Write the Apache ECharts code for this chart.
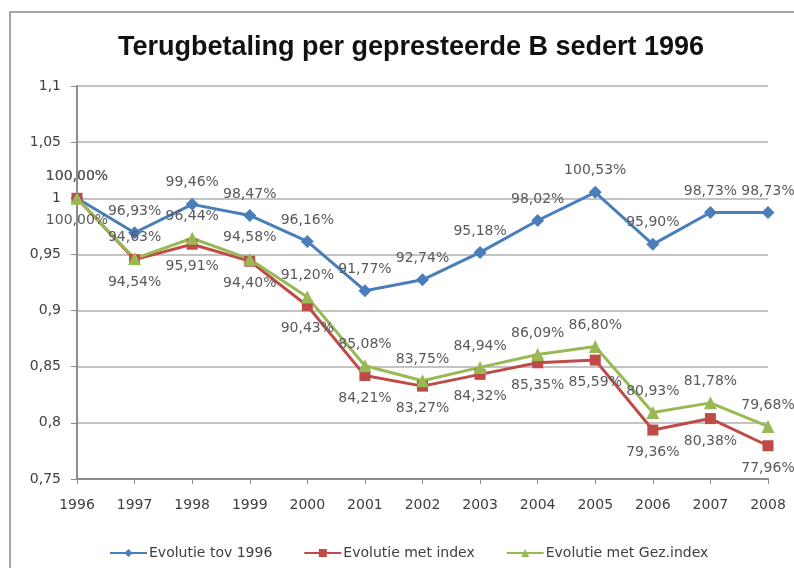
<!DOCTYPE html>
<html>
<head>
<meta charset="utf-8">
<style>
  html, body { margin: 0; padding: 0; background: #fff; }
  #chart { width: 794px; height: 568px; }
</style>
<script src="https://cdn.jsdelivr.net/npm/echarts@6/dist/echarts.min.js"></script>
</head>
<body>
<div id="chart"></div>
<script>
// jaren op de x-as
var years = ['1996', '1997', '1998', '1999', '2000', '2001', '2002', '2003', '2004', '2005', '2006', '2007', '2008'];

// evolutie t.o.v. 1996 (als fractie)
var evolTov1996 = [1.0000, 0.9693, 0.9946, 0.9847, 0.9616, 0.9177, 0.9274, 0.9518, 0.9802, 1.0053, 0.9590, 0.9873, 0.9873];
var evolIndex = [1.0000, 0.9454, 0.9591, 0.9440, 0.9043, 0.8421, 0.8327, 0.8432, 0.8535, 0.8559, 0.7936, 0.8038, 0.7796];
var evolGezIndex = [1.0000, 0.9463, 0.9644, 0.9458, 0.9120, 0.8508, 0.8375, 0.8494, 0.8609, 0.8680, 0.8093, 0.8178, 0.7968];

var seriesNames = ['Evolutie tov 1996', 'Evolutie met index', 'Evolutie met Gez.index'];

var font = 'DejaVu Sans';

function pct(p) {
  return (p.value * 100).toFixed(2).replace('.', ',') + '%';
}

function lineSeries(name, data, color, symbol, size, labelPos) {
  return {
    name: name,
    type: 'line',
    data: data,
    symbol: symbol,
    symbolSize: size,
    lineStyle: { color: color, width: 3 },
    itemStyle: { color: color },
    label: {
      show: true,
      position: labelPos,
      distance: labelPos === 'top' ? 8 : 10,
      formatter: pct,
      color: '#595959',
      fontFamily: font,
      fontSize: 14
    },
    emphasis: { disabled: true },
    animation: false
  };
}

var option = {
  backgroundColor: '#fff',
  title: {
    text: 'Terugbetaling per gepresteerde B sedert 1996',
    left: 406,
    top: 29,
    textAlign: 'center',
    textStyle: { fontFamily: 'Liberation Sans', fontWeight: 'bold', fontSize: 27, color: '#111' }
  },
  graphic: [{
    type: 'rect',
    shape: { x: 10, y: 12, width: 820, height: 600 },
    style: { fill: 'none', stroke: '#8a8a8a', lineWidth: 1.5 },
    silent: true,
    z: -1
  }],
  legend: {
    bottom: 3,
    left: 104,
    itemWidth: 37,
    itemHeight: 10,
    itemGap: 31,
    textStyle: { fontFamily: font, fontSize: 14, color: '#404040', padding: [0, 0, 0, -3] },
    data: seriesNames
  },
  grid: { left: 77, right: 26, top: 86, bottom: 89 },
  xAxis: {
    type: 'category',
    data: years,
    boundaryGap: false,
    axisLine: { lineStyle: { color: '#8c8c8c', width: 2 } },
    axisTick: { show: true, length: 5, lineStyle: { color: '#8c8c8c' } },
    axisLabel: { margin: 19, fontFamily: font, fontSize: 14, color: '#404040' },
    splitLine: { show: false }
  },
  yAxis: {
    type: 'value',
    min: 0.75,
    max: 1.1,
    interval: 0.05,
    axisLine: { show: true, lineStyle: { color: '#8c8c8c', width: 2 } },
    axisTick: { show: true, length: 6, lineStyle: { color: '#8c8c8c' } },
    axisLabel: {
      margin: 16,
      fontFamily: font,
      fontSize: 14,
      color: '#404040',
      formatter: function (v) { return String(+v.toFixed(2)).replace('.', ','); }
    },
    splitLine: { lineStyle: { color: '#c4c4c4', width: 2 } }
  },
  series: [
    lineSeries(seriesNames[0], evolTov1996, '#4a7ebb', 'diamond', 13, 'top'),
    lineSeries(seriesNames[1], evolIndex, '#be4b48', 'rect', 11, 'bottom'),
    lineSeries(seriesNames[2], evolGezIndex, '#98b954', 'triangle', 13, 'top')
  ]
};

var myChart = echarts.init(document.getElementById('chart'));
myChart.setOption(option);
</script>
</body>
</html>
